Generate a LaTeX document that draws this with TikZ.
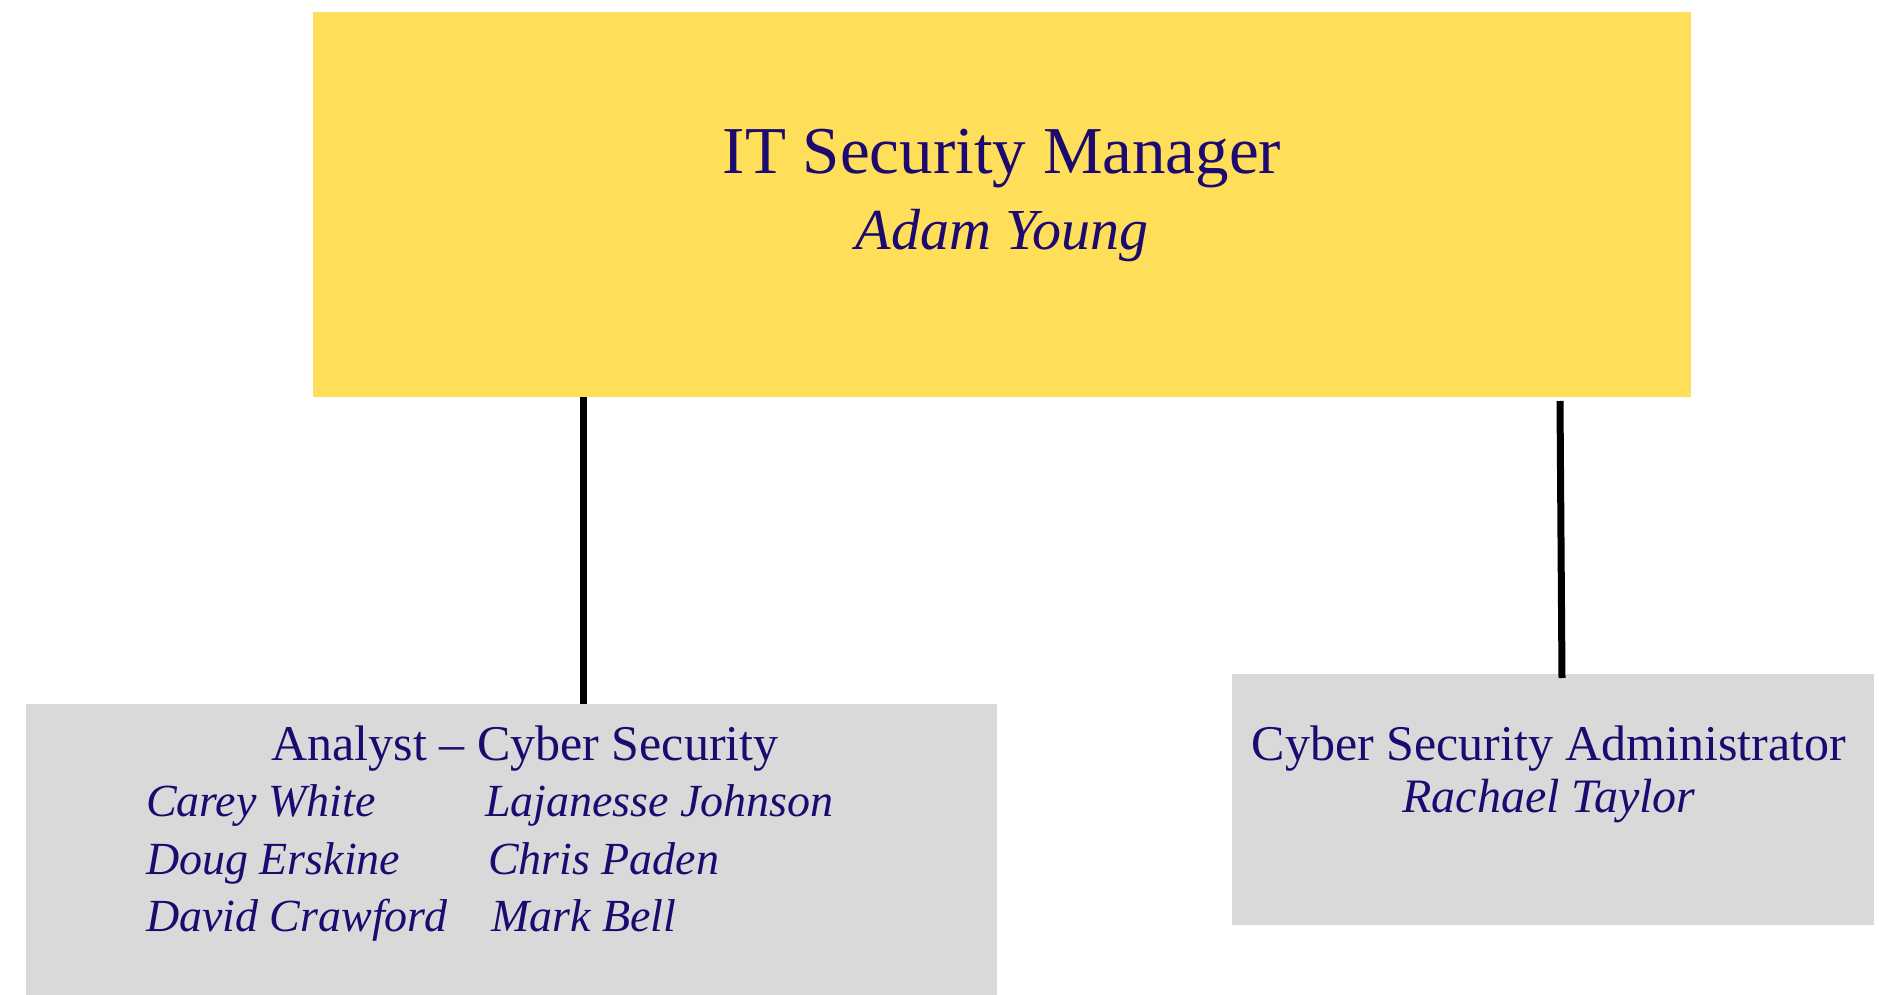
\documentclass[tikz,border=0pt]{standalone}
\usepackage{fontspec}
\setmainfont{Liberation Serif}
\definecolor{boss}{HTML}{FFDE59}
\definecolor{team}{HTML}{D9D9D9}
\definecolor{ink}{RGB}{28,10,112}
\tikzset{
  card/.style={inner sep=0pt, outer sep=0pt, anchor=north west},
  label/.style={inner sep=0pt, outer sep=0pt, text=ink, anchor=base},
  labelw/.style={label, anchor=base west},
  link/.style={line width=7pt, black},
}
\begin{document}
\begin{tikzpicture}[x=1pt,y=-1pt]
\useasboundingbox (0,0) rectangle (1883,995);
% boxes
\node[card, fill=boss, minimum width=1378pt, minimum height=385pt] (mgr) at (313,12) {};
\node[card, fill=team, minimum width=971pt, minimum height=291pt] (ana) at (26,704) {};
\node[card, fill=team, minimum width=642pt, minimum height=251pt] (adm) at (1232,674) {};
\coordinate (xa) at (583.5,0);
\coordinate (xb) at (1560,405);
% connectors
\draw[link] (mgr.south -| xa) -- (ana.north -| xa);
\draw[link] (mgr.south -| xb) ++(0,4) -- ([xshift=2pt,yshift=-4pt]adm.north -| xb);
% texts
\node[label, font=\fontsize{67}{67}\selectfont] (t1) at (1002,174) {IT Security Manager};
\node[label, font=\fontsize{58}{58}\itshape] (n1) at (1002,250) {Adam Young};
\node[label, font=\fontsize{50}{50}\selectfont] (t2) at (525,760) {Analyst -- Cyber Security};
\node[labelw, font=\fontsize{46}{46}\itshape] (a1) at (146,816) {Carey White};
\node[labelw, font=\fontsize{46}{46}\itshape] (a2) at (146,874) {Doug Erskine};
\node[labelw, font=\fontsize{46}{46}\itshape] (a3) at (146,931) {David Crawford};
\node[labelw, font=\fontsize{46}{46}\itshape] (b1) at (485,816) {Lajanesse Johnson};
\node[labelw, font=\fontsize{46}{46}\itshape] (b2) at (488,874) {Chris Paden};
\node[labelw, font=\fontsize{46}{46}\itshape] (b3) at (491,931) {Mark Bell};
\node[label, font=\fontsize{50}{50}\selectfont] (t3) at (1549,760) {Cyber Security Administrator};
\node[label, font=\fontsize{48}{48}\itshape] (n3) at (1549,812) {Rachael Taylor};
\end{tikzpicture}
\end{document}
